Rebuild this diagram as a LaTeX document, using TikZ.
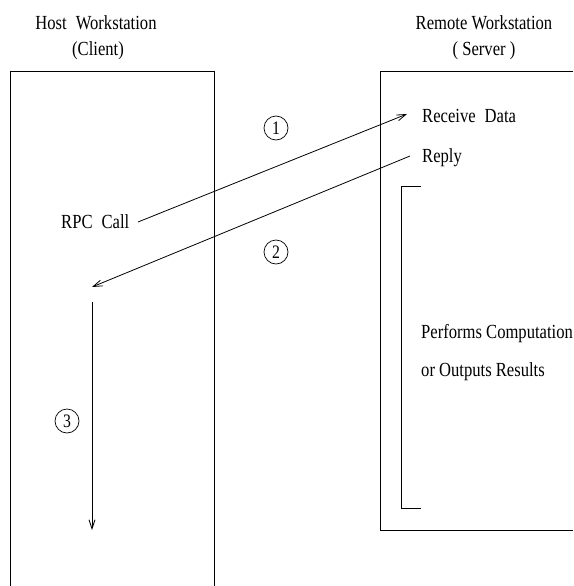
\documentclass[tikz,border=0pt]{standalone}
\usepackage{fontspec}
\setmainfont{Liberation Serif}[FakeStretch=0.83]
\usetikzlibrary{arrows.meta}
\begin{document}
\begin{tikzpicture}[x=1pt,y=-1pt,
  lbl/.style={inner sep=0pt,font=\fontsize{20}{24}\selectfont},
  frame/.style={line width=0.9pt},
  conn/.style={line width=0.8pt,-{Straight Barb[length=9pt,width=6pt]}},
  plain/.style={line width=0.8pt},
  num/.style={draw,circle,line width=0.7pt,minimum size=24pt,inner sep=0pt,font=\fontsize{19}{22}\selectfont}]
\useasboundingbox (0,0) rectangle (573,586);
% titles
\node[lbl,anchor=base] (host) at (96,30) {Host\hspace{0.45em}Workstation};
\node[lbl,anchor=base] (client) at (98,56) {(Client)};
\node[lbl,anchor=base] (remote) at (484,30) {Remote Workstation};
\node[lbl,anchor=base] (server) at (484,56) {( Server )};
% boxes
\draw[frame] (10,586) -- (10,71) -- (214,71) -- (214,586);
\draw[frame] (573,71) -- (380,71) -- (380,530) -- (573,530);
% bracket
\draw[plain] (421,186) -- (401,186) -- (401,508) -- (421,508);
% labels
\node[lbl,anchor=base west] (recv) at (422,122) {Receive\hspace{0.45em}Data};
\node[lbl,anchor=base west] (reply) at (422,162) {Reply};
\node[lbl,anchor=base west] (rpc) at (61,228) {RPC\hspace{0.45em}Call};
\node[lbl,anchor=base west] (perf) at (421,338) {Performs Computation};
\node[lbl,anchor=base west] (outp) at (421,376) {or Outputs Results};
% circled numbers
\node[num] (n1) at (276,128) {1};
\node[num] (n2) at (276,252) {2};
\node[num] (n3) at (67,421) {3};
% connector end points
\coordinate (rpcend) at (138,222);
\coordinate (recvend) at (407,114);
\coordinate (replyend) at (410,156);
\coordinate (ret) at (92,287);
\coordinate (wtop) at (92,302);
\coordinate (wbot) at (92,530);
\draw[conn] (rpcend) -- (recvend);
\draw[conn] (replyend) -- (ret);
\draw[conn] (wtop) -- (wbot);
\end{tikzpicture}
\end{document}
